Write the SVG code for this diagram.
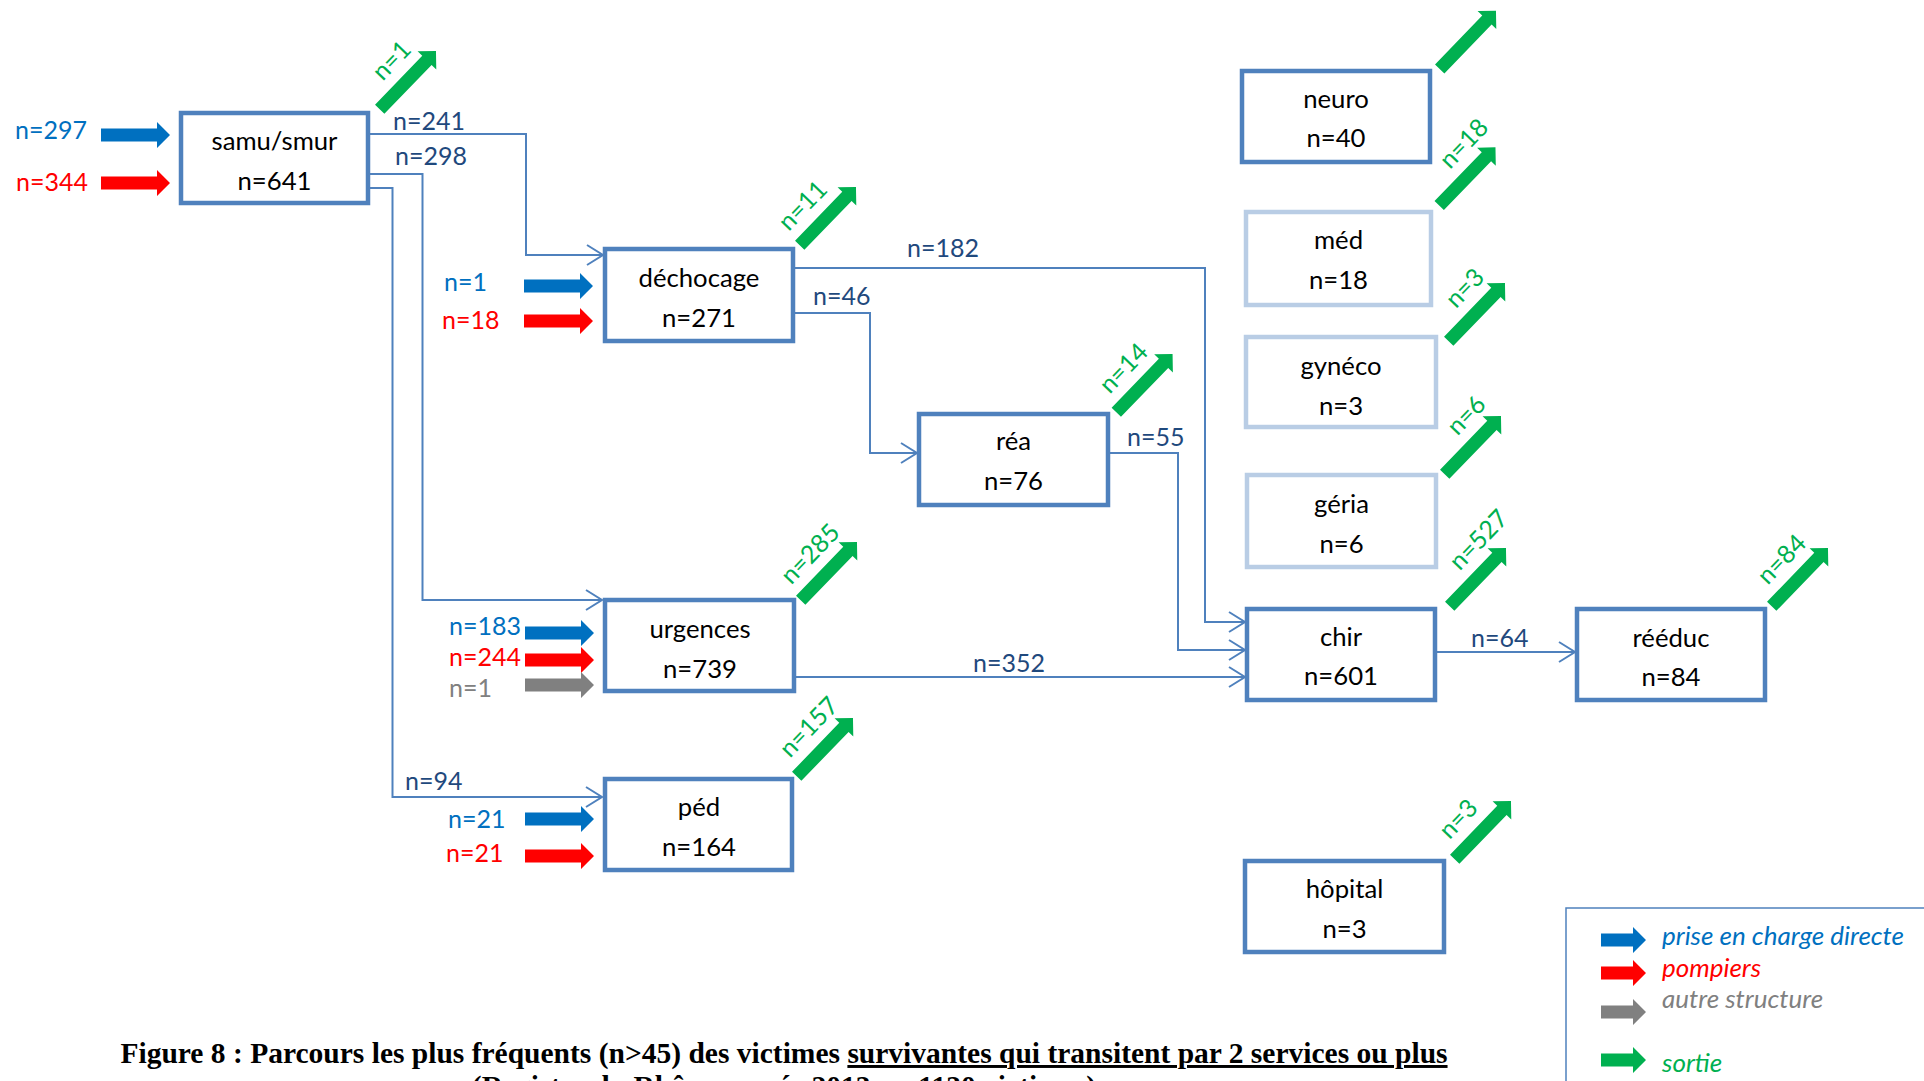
<svg xmlns="http://www.w3.org/2000/svg" xmlns:xlink="http://www.w3.org/1999/xlink" width="1924" height="1081" viewBox="0 0 1924 1081">
<style>
.box{fill:#fff;stroke:#4F81BD;stroke-width:4.5}
.lbox{fill:#fff;stroke:#B9CDE5;stroke-width:4.5}
.t{font-family:Lato,"Liberation Sans",sans-serif;font-size:25.7px;fill:#000;text-anchor:middle}
.lab{font-family:Lato,"Liberation Sans",sans-serif;font-size:25px;fill:#1F497D}
.in{font-family:Lato,"Liberation Sans",sans-serif;font-size:25px}
.g{font-family:Lato,"Liberation Sans",sans-serif;font-size:25px;fill:#00B050}
.leg{font-family:Lato,"Liberation Sans",sans-serif;font-size:26px;font-style:italic}
.conn{fill:none;stroke:#4F81BD;stroke-width:2;marker-end:url(#chev)}
.cap{font-family:"Liberation Serif","Times New Roman",serif;font-size:29.5px;font-weight:bold;fill:#000;text-anchor:middle}
.blue{fill:#0070C0}.red{fill:#FF0000}.grey{fill:#808080}.green{fill:#00B050}
</style>
<defs>
<marker id="chev" markerUnits="userSpaceOnUse" markerWidth="22" markerHeight="26" viewBox="-19 -13 22 26" refX="0" refY="0" orient="auto">
<path d="M-16,-10 L0,0 L-16,10" fill="none" stroke="#4F81BD" stroke-width="2"/>
</marker>
<path id="harr" d="M0,-6.5 H56 V-13 L69,0 L56,13 V6.5 H0 Z"/>
<path id="larr" d="M0,-6.5 H32 V-13 L45,0 L32,13 V6.5 H0 Z"/>
<path id="garr" d="M0,-6.5 H68 V-13 L81,0 L68,13 V6.5 H0 Z" fill="#00B050"/>
</defs>

<g id="connectors">
<path class="conn" d="M370,134 H526 V255 H603"/>
<path class="conn" d="M370,174 H422.5 V600 H602"/>
<path class="conn" d="M370,188 H392.5 V797 H602"/>
<path class="conn" d="M795,268 H1205 V622 H1245"/>
<path class="conn" d="M795,313 H870 V453 H917"/>
<path class="conn" d="M1110,453 H1178 V650 H1245"/>
<path class="conn" d="M796,677 H1245"/>
<path class="conn" d="M1437,652 H1575"/>
<text class="lab" x="393" y="130">n=241</text>
<text class="lab" x="395" y="165">n=298</text>
<text class="lab" x="405" y="790">n=94</text>
<text class="lab" x="907" y="257">n=182</text>
<text class="lab" x="813" y="305">n=46</text>
<text class="lab" x="1127" y="446">n=55</text>
<text class="lab" x="973" y="672">n=352</text>
<text class="lab" x="1471" y="647">n=64</text>
</g>

<g id="inputs">
<use xlink:href="#harr" x="101" y="135" class="blue"/>
<use xlink:href="#harr" x="101" y="183" class="red"/>
<text class="in blue" x="15" y="139">n=297</text>
<text class="in red" x="16" y="191">n=344</text>
<use xlink:href="#harr" x="524" y="286" class="blue"/>
<use xlink:href="#harr" x="524" y="321" class="red"/>
<text class="in blue" x="444" y="291">n=1</text>
<text class="in red" x="442" y="329">n=18</text>
<use xlink:href="#harr" x="525" y="633" class="blue"/>
<use xlink:href="#harr" x="525" y="660" class="red"/>
<use xlink:href="#harr" x="525" y="685" class="grey"/>
<text class="in blue" x="449" y="635">n=183</text>
<text class="in red" x="449" y="666">n=244</text>
<text class="in grey" x="449" y="697">n=1</text>
<use xlink:href="#harr" x="525" y="819" class="blue"/>
<use xlink:href="#harr" x="525" y="856" class="red"/>
<text class="in blue" x="448" y="828">n=21</text>
<text class="in red" x="446" y="862">n=21</text>
</g>

<g id="samu">
<rect class="box" x="181" y="113" width="187" height="90"/>
<text class="t" x="274.5" y="150">samu/smur</text>
<text class="t" x="274.5" y="190">n=641</text>
</g>
<g id="dechocage">
<rect class="box" x="605" y="249" width="188" height="92"/>
<text class="t" x="699" y="287">déchocage</text>
<text class="t" x="699" y="327">n=271</text>
</g>
<g id="rea">
<rect class="box" x="919" y="414" width="189" height="91"/>
<text class="t" x="1013.5" y="450">réa</text>
<text class="t" x="1013.5" y="490">n=76</text>
</g>
<g id="urgences">
<rect class="box" x="605" y="600" width="189" height="91"/>
<text class="t" x="700" y="638">urgences</text>
<text class="t" x="700" y="678">n=739</text>
</g>
<g id="ped">
<rect class="box" x="605" y="779" width="187" height="91"/>
<text class="t" x="699" y="816">péd</text>
<text class="t" x="699" y="856">n=164</text>
</g>
<g id="neuro">
<rect class="box" x="1242" y="71" width="188" height="91"/>
<text class="t" x="1336" y="108">neuro</text>
<text class="t" x="1336" y="147">n=40</text>
</g>
<g id="med">
<rect class="lbox" x="1246" y="212" width="185" height="93"/>
<text class="t" x="1338.5" y="249">méd</text>
<text class="t" x="1338.5" y="289">n=18</text>
</g>
<g id="gyneco">
<rect class="lbox" x="1246" y="337" width="190" height="90"/>
<text class="t" x="1341" y="375">gynéco</text>
<text class="t" x="1341" y="415">n=3</text>
</g>
<g id="geria">
<rect class="lbox" x="1247" y="475" width="189" height="92"/>
<text class="t" x="1341.5" y="513">géria</text>
<text class="t" x="1341.5" y="553">n=6</text>
</g>
<g id="chir">
<rect class="box" x="1247" y="609" width="188" height="91"/>
<text class="t" x="1341" y="646">chir</text>
<text class="t" x="1341" y="685">n=601</text>
</g>
<g id="reeduc">
<rect class="box" x="1577" y="609" width="188" height="91"/>
<text class="t" x="1671" y="647">rééduc</text>
<text class="t" x="1671" y="686">n=84</text>
</g>
<g id="hopital">
<rect class="box" x="1245" y="861" width="199" height="91"/>
<text class="t" x="1344.5" y="898">hôpital</text>
<text class="t" x="1344.5" y="938">n=3</text>
</g>

<g id="sorties">
<g transform="translate(379.7,109.3) rotate(-46)"><use xlink:href="#garr"/><text class="g" x="22" y="-17">n=1</text></g>
<g transform="translate(799.7,245.3) rotate(-46)"><use xlink:href="#garr"/><text class="g" x="2" y="-17">n=11</text></g>
<g transform="translate(800.7,600.3) rotate(-46)"><use xlink:href="#garr"/><text class="g" x="4" y="-17">n=285</text></g>
<g transform="translate(796.7,776.3) rotate(-46)"><use xlink:href="#garr"/><text class="g" x="8" y="-17">n=157</text></g>
<g transform="translate(1116.3,412.3) rotate(-46)"><use xlink:href="#garr"/><text class="g" x="8" y="-17">n=14</text></g>
<g transform="translate(1439.7,69) rotate(-46)"><use xlink:href="#garr"/></g>
<g transform="translate(1439.2,205.6) rotate(-46)"><use xlink:href="#garr"/><text class="g" x="33" y="-17">n=18</text></g>
<g transform="translate(1448.7,341.3) rotate(-46)"><use xlink:href="#garr"/><text class="g" x="28" y="-17">n=3</text></g>
<g transform="translate(1444.7,474.3) rotate(-46)"><use xlink:href="#garr"/><text class="g" x="36" y="-17">n=6</text></g>
<g transform="translate(1449.7,606.3) rotate(-46)"><use xlink:href="#garr"/><text class="g" x="32" y="-17">n=527</text></g>
<g transform="translate(1771.7,606.3) rotate(-46)"><use xlink:href="#garr"/><text class="g" x="12" y="-17">n=84</text></g>
<g transform="translate(1454.7,859.3) rotate(-46)"><use xlink:href="#garr"/><text class="g" x="10" y="-17">n=3</text></g>
</g>

<g id="legend">
<path d="M1566,1081 V908 H1924" fill="none" stroke="#4F81BD" stroke-width="1.5"/>
<use xlink:href="#larr" x="1601" y="940" class="blue"/>
<use xlink:href="#larr" x="1601" y="973" class="red"/>
<use xlink:href="#larr" x="1601" y="1012" class="grey"/>
<use xlink:href="#larr" x="1601" y="1060" class="green"/>
<text class="leg blue" x="1662" y="945">prise en charge directe</text>
<text class="leg red" x="1662" y="977">pompiers</text>
<text class="leg grey" x="1662" y="1008">autre structure</text>
<text class="leg green" x="1662" y="1072">sortie</text>
</g>

<g id="caption">
<text class="cap" x="784" y="1063">Figure 8 : Parcours les plus fréquents (n&gt;45) des victimes <tspan text-decoration="underline">survivantes qui transitent par 2 services ou plus</tspan></text>
<text class="cap" x="784" y="1096">(Registre du Rhône, année 2013, n=1130 victimes)</text>
</g>
</svg>
